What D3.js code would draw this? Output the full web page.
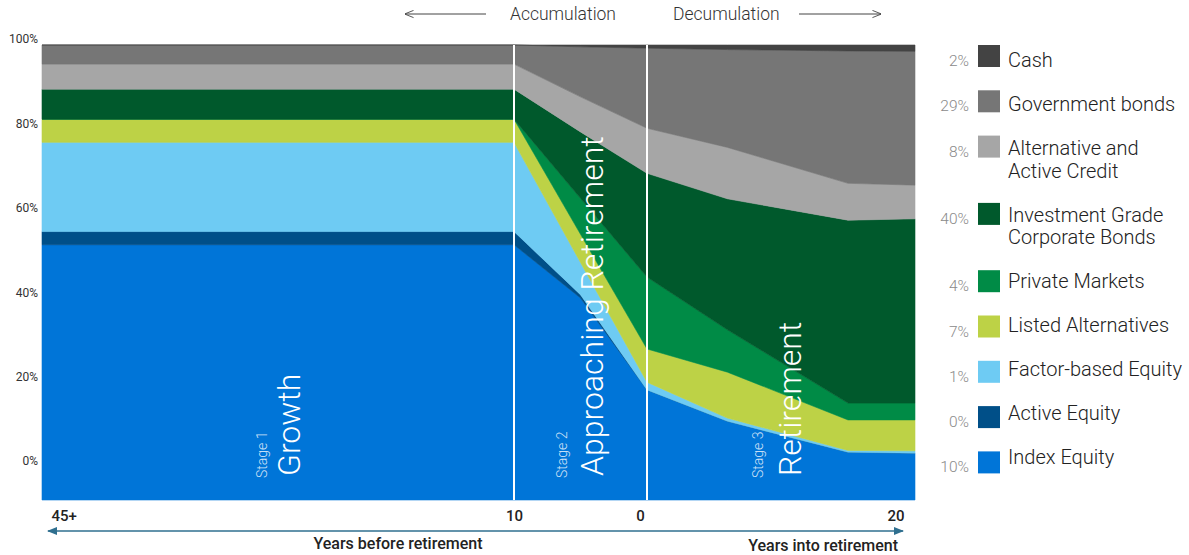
<!DOCTYPE html>
<html>
<head>
<meta charset="utf-8">
<script src="https://cdn.jsdelivr.net/npm/d3@7"></script>
<style>
body { margin: 0; background: #fff; }
svg { font-family: Roboto, "Noto Sans", sans-serif; display: block; }
</style>
</head>
<body>
<svg id="chart"></svg>
<script>
// years relative to retirement (negative = before)
const years = [-45, -10, -5, 0, 6, 15, 20];

// allocation in % at each year, bottom of the stack first
const indexEquity    = [56.1, 56.1, 44.4, 24.2, 17.3, 10.5, 10.3];
const activeEquity   = [2.9, 2.9, 0.7, 0, 0, 0, 0];
const factorEquity   = [19.6, 19.6, 7.1, 1.7, 0.7, 0.4, 0.5];
const listedAlts     = [5.1, 5.1, 6.2, 7.3, 10.1, 6.7, 6.8];
const privateMarkets = [0, 0, 7.9, 15.8, 9.3, 3.7, 3.7];
const igCorpBonds    = [6.6, 6.6, 14.6, 22.8, 28.8, 40.2, 40.5];
const altCredit      = [5.5, 5.5, 7.7, 9.9, 11.3, 8.1, 7.4];
const govBonds       = [4.2, 4.2, 11.0, 17.6, 21.5, 29.1, 29.4];
const cash           = [0, 0, 0.4, 0.7, 1.0, 1.3, 1.4];

const keys = ["index", "active", "factor", "listed", "pm", "ig", "alt", "gov", "cash"];
const names = {
    cash: "Cash", gov: "Government bonds", alt: "Alternative and\nActive Credit",
    ig: "Investment Grade\nCorporate Bonds", pm: "Private Markets", listed: "Listed Alternatives",
    factor: "Factor-based Equity", active: "Active Equity", index: "Index Equity"
};
// end-state allocation shown in legend
const legendPct = {cash: "2%", gov: "29%", alt: "8%", ig: "40%", pm: "4%", listed: "7%", factor: "1%", active: "0%", index: "10%"};

const yTicks = [0, 20, 40, 60, 80, 100];
const xTicks = [-45, -10, 0, 20];
const xTickLabels = ["45+", "10", "0", "20"];
const stages = [
    {small: "Stage 1", big: "Growth", from: -45, to: -10},
    {small: "Stage 2", big: "Approaching Retirement", from: -10, to: 0},
    {small: "Stage 3", big: "Retirement", from: 0, to: 20}
];

const colors = {
    index: "#0075d8", active: "#004f88", factor: "#6ecbf3", listed: "#bdd246",
    pm: "#008b46", ig: "#00592c", alt: "#a6a6a6", gov: "#767676", cash: "#434343"
};

const svgWidth = 1189, svgHeight = 555;
const plotTop = 45, plotBottom = 500;

const chart = d3.select("#chart").attr("width", svgWidth).attr("height", svgHeight);

var xScale = d3.scaleLinear().domain([-45, -10, 0, 20]).range([42, 514, 647, 915]);
var yScale = d3.scaleLinear().domain([0, 100]).range([plotBottom, plotTop]);
// the printed percent labels sit on their own scale in the original
var yLabelScale = d3.scaleLinear().domain([0, 100]).range([461, 39]);

const rows = years.map(function(yr, i) {
    return {
        year: yr, index: indexEquity[i], active: activeEquity[i], factor: factorEquity[i],
        listed: listedAlts[i], pm: privateMarkets[i], ig: igCorpBonds[i],
        alt: altCredit[i], gov: govBonds[i], cash: cash[i]
    };
});

const series = d3.stack().keys(keys)(rows);

var area = d3.area()
    .x(function(d) { return xScale(d.data.year); })
    .y0(function(d) { return yScale(d[0]); })
    .y1(function(d) { return yScale(d[1]); })
    .curve(d3.curveLinear);

chart.append("g")
    .selectAll("path")
    .data(series)
    .enter()
    .append("path")
    .attr("d", area)
    .attr("fill", function(d) { return colors[d.key]; })
    .attr("stroke", function(d) { return colors[d.key]; })
    .attr("stroke-width", 0.6);

// stage dividers
chart.append("g")
    .selectAll("line")
    .data([-10, 0])
    .enter()
    .append("line")
    .attr("x1", function(d) { return xScale(d); })
    .attr("x2", function(d) { return xScale(d); })
    .attr("y1", plotTop)
    .attr("y2", plotBottom)
    .attr("stroke", "#fff")
    .attr("stroke-width", 2);

// stage labels (rotated)
const bigOffset = [22, 22, 20], smallOffset = [-11, -14, -18];
stages.forEach(function(s, i) {
    var mid = xScale((s.from + s.to) / 2);
    chart.append("text")
        .attr("transform", "translate(" + (mid + smallOffset[i]) + ",478) rotate(-90)")
        .attr("fill", "#fff").attr("fill-opacity", 0.8)
        .attr("font-size", 14).attr("font-weight", 300)
        .text(s.small);
    chart.append("text")
        .attr("transform", "translate(" + (mid + bigOffset[i]) + ",476) rotate(-90)")
        .attr("fill", "#fff")
        .attr("font-size", 32).attr("font-weight", 300)
        .text(s.big);
});

// y axis
var yAxis = d3.axisLeft(yLabelScale).tickValues(yTicks)
    .tickFormat(function(d) { return d + "%"; })
    .tickSize(0).tickPadding(4);
var gy = chart.append("g").attr("transform", "translate(42,0)").call(yAxis);
gy.select(".domain").remove();
gy.selectAll("text").attr("font-size", 12).attr("fill", "#333").attr("font-family", "Roboto, sans-serif");

// x axis
var xAxis = d3.axisBottom(xScale).tickValues(xTicks)
    .tickFormat(function(d, i) { return xTickLabels[i]; })
    .tickSize(0).tickPadding(10);
var gx = chart.append("g").attr("transform", "translate(0," + plotBottom + ")").call(xAxis);
gx.select(".domain").remove();
gx.selectAll("text")
    .attr("font-size", 15).attr("font-weight", 500).attr("fill", "#222")
    .attr("font-family", "Roboto, sans-serif")
    .attr("text-anchor", function(d, i) { return i == 0 ? "start" : (i == 3 ? "end" : "middle"); })
    .attr("dx", function(d, i) { return [9, 0, -7, -11][i]; });

// bottom double arrow
var defs = chart.append("defs");
defs.append("marker").attr("id", "tri").attr("viewBox", "0 0 10 10")
    .attr("refX", 9).attr("refY", 5).attr("markerWidth", 10).attr("markerHeight", 10)
    .attr("markerUnits", "userSpaceOnUse").attr("orient", "auto-start-reverse")
    .append("path").attr("d", "M0,1 L10,5 L0,9 Z").attr("fill", "#2f6f8f");
defs.append("marker").attr("id", "open").attr("viewBox", "0 0 10 10")
    .attr("refX", 9.5).attr("refY", 5).attr("markerWidth", 9).attr("markerHeight", 9)
    .attr("markerUnits", "userSpaceOnUse").attr("orient", "auto")
    .append("path").attr("d", "M0,1 L10,5 L0,9").attr("fill", "none").attr("stroke", "#444").attr("stroke-width", 1);

chart.append("line")
    .attr("x1", xScale(-45) + 6).attr("x2", xScale(20) - 12)
    .attr("y1", 531).attr("y2", 531)
    .attr("stroke", "#2f6f8f").attr("stroke-width", 1.5)
    .attr("marker-start", "url(#tri)").attr("marker-end", "url(#tri)");

chart.append("text").attr("x", 398).attr("y", 549).attr("text-anchor", "middle")
    .attr("font-size", 16).attr("font-weight", 500).attr("fill", "#222")
    .text("Years before retirement");
chart.append("text").attr("x", xScale(20) - 17).attr("y", 551).attr("text-anchor", "end")
    .attr("font-size", 16).attr("font-weight", 500).attr("fill", "#222")
    .text("Years into retirement");

// accumulation / decumulation header
chart.append("text").attr("x", xScale(0) - 31).attr("y", 20).attr("text-anchor", "end")
    .attr("font-size", 17.5).attr("font-weight", 300).attr("fill", "#333").text("Accumulation");
chart.append("text").attr("x", xScale(0) + 26).attr("y", 20).attr("text-anchor", "start")
    .attr("font-size", 17.5).attr("font-weight", 300).attr("fill", "#333").text("Decumulation");
chart.append("line").attr("x1", 486).attr("x2", 405).attr("y1", 14).attr("y2", 14)
    .attr("stroke", "#444").attr("stroke-width", 1).attr("marker-end", "url(#open)");
chart.append("line").attr("x1", 799).attr("x2", 881).attr("y1", 14).attr("y2", 14)
    .attr("stroke", "#444").attr("stroke-width", 1).attr("marker-end", "url(#open)");

// legend, top item = top of stack
// swatches and their labels drift apart a little in the original, so two counters
var legend = chart.append("g").attr("transform", "translate(978,0)");
var ly = 45, ty = 67;
keys.slice().reverse().forEach(function(k) {
    var lines = names[k].split("\n");
    var g = legend.append("g");
    g.append("rect").attr("y", ly).attr("width", 22).attr("height", 22).attr("fill", colors[k]);
    g.append("text").attr("x", -9).attr("y", ly + 21).attr("text-anchor", "end")
        .attr("font-size", 15.5).attr("font-weight", 300).attr("fill", "#8a8a8a")
        .text(legendPct[k]);
    g.append("text").attr("x", 30).attr("y", ty)
        .attr("font-size", 20).attr("font-weight", 300).attr("fill", "#222")
        .selectAll("tspan").data(lines).enter().append("tspan")
        .attr("x", 30).attr("dy", function(d, i) { return i == 0 ? 0 : 22.5; })
        .text(function(d) { return d; });
    ly += 45.3 + 22 * (lines.length - 1);
    ty += 44 + 22.5 * (lines.length - 1);
});
</script>
</body>
</html>
